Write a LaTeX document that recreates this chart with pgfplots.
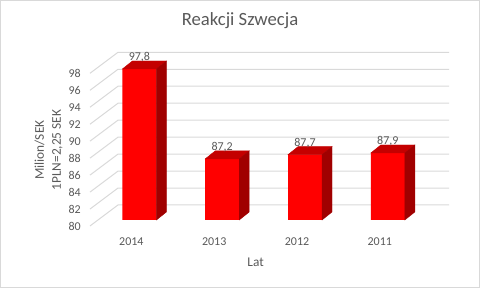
\documentclass[border=0pt]{standalone}
\usepackage{pgfplots}
\pgfplotsset{compat=1.18}
\usepackage{fontspec}
\setmainfont{Carlito}
\definecolor{txt}{RGB}{89,89,89}
\definecolor{gridc}{RGB}{217,217,217}
\definecolor{frontc}{RGB}{255,0,0}
\definecolor{topc}{RGB}{196,0,0}
\definecolor{sidec}{RGB}{160,0,0}
\pgfdeclareplotmark{emptymark}{}
\begin{document}
\begin{tikzpicture}
\useasboundingbox (0pt,0pt) rectangle (480pt,288pt);
\draw[gridc, line width=1pt] (0.5pt,0.5pt) rectangle (479.5pt,287.5pt);
\begin{axis}[
  at={(98pt,68pt)}, anchor=south west,
  x=82.8pt, y=8.483pt,
  xmin=-0.5, xmax=3.5, ymin=80, ymax=98,
  clip=false,
  axis line style={draw=none},
  tick style={draw=none},
  /pgf/number format/assume math mode=true,
  /pgf/number format/use comma,
  ytick={80,82,...,98},
  yticklabel={\pgfmathprintnumber{\tick}},
  yticklabel style={font=\fontsize{12pt}{14pt}\selectfont, color=txt, anchor=east, inner sep=0pt, xshift=-17pt, yshift=-6pt},
  xtick={0,1,2,3},
  xticklabels={2014,2013,2012,2011},
  xticklabel style={font=\fontsize{12pt}{14pt}\selectfont, color=txt, anchor=base, inner sep=0pt, xshift=-8pt, yshift=-26pt},
  title={Reakcji Szwecja},
  every axis title/.style={at={(axis description cs:0.5,1)}, anchor=center, xshift=-23.6pt, yshift=47pt, font=\fontsize{18.67pt}{22pt}\selectfont, color=txt},
  xlabel={Lat},
  every axis x label/.style={at={(axis description cs:0.5,0)}, anchor=center, xshift=-8pt, yshift=-42pt, font=\fontsize{13.33pt}{16pt}\selectfont, color=txt},
  ylabel={Milion/SEK\\1PLN=2,25 SEK},
  every axis y label/.style={at={(axis description cs:0,0.5)}, anchor=center, xshift=-49.5pt, yshift=-6.5pt, rotate=90, align=center, font=\fontsize{13.33pt}{17pt}\selectfont, color=txt},
]
\pgfplotsinvokeforeach{80,82,...,98}{
  \draw[gridc, line width=1pt] ([xshift=-8pt,yshift=-6pt]axis cs:-0.5,#1) -- ([xshift=20pt,yshift=15pt]axis cs:-0.5,#1) -- ([xshift=20pt,yshift=15pt]axis cs:3.5,#1);
}
% top and side faces of the 3D bars
\addplot[only marks, mark=emptymark, scatter, point meta=y,
  visualization depends on={rawy \as \rawy},
  scatter/@pre marker code/.code={%
    \pgfmathsetmacro\h{(\rawy-80)*8.483}%
    \fill[topc] (-17pt,0pt) -- (17pt,0pt) -- (27pt,8pt) -- (-7pt,8pt) -- cycle;
    \fill[sidec] (17pt,0pt) -- (27pt,8pt) -- (27pt,{(8-\h)*1pt}) -- (17pt,{-\h*1pt}) -- cycle;
  },
  scatter/@post marker code/.code={}]
  coordinates {(0,97.8) (1,87.2) (2,87.7) (3,87.9)};
% front faces
\addplot[ybar, bar width=34pt, bar shift=0pt, fill=frontc, draw=none,
  nodes near coords, point meta=y,
  nodes near coords style={/pgf/number format/fixed, /pgf/number format/precision=1, /pgf/number format/use comma, font=\fontsize{12pt}{14pt}\selectfont, color=txt, yshift=3.5pt}]
  coordinates {(0,97.8) (1,87.2) (2,87.7) (3,87.9)};
\end{axis}
\end{tikzpicture}
\end{document}
